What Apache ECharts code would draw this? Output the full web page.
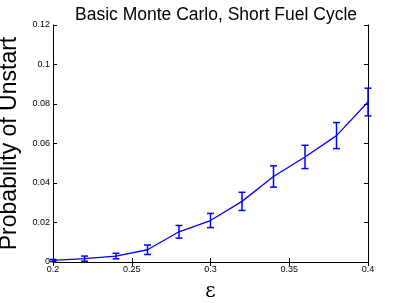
<!DOCTYPE html>
<html><head><meta charset="utf-8">
<script src="https://cdn.jsdelivr.net/npm/echarts@6/dist/echarts.min.js"></script>
<style>html,body{margin:0;padding:0;background:#fff}#c{width:407px;height:303px}</style>
</head><body><div id="c"></div>
<script>
const epsilon = [0.2,0.22,0.24,0.26,0.28,0.3,0.32,0.34,0.36,0.38,0.4];
const probUnstart = [0.0008,0.0017,0.003,0.0062,0.0153,0.021,0.0307,0.0433,0.0532,0.064,0.081];
const errHalf = [0.0005,0.0013,0.0014,0.0024,0.0032,0.0036,0.0046,0.0054,0.0059,0.0066,0.007];
const xTicks = [0.2,0.25,0.3,0.35,0.4];
const yTicks = [0,0.02,0.04,0.06,0.08,0.1,0.12];

const lineData = epsilon.map((x,i)=>[x,probUnstart[i]]);
const errData = epsilon.map((x,i)=>[x,probUnstart[i]-errHalf[i],probUnstart[i]+errHalf[i]]);
const font = 'Liberation Sans, Arial, sans-serif';
const fmt = v => String(+v.toFixed(3));
const baseX = {type:'value',min:xTicks[0],max:xTicks[xTicks.length-1],interval:0.05,
  axisLine:{show:true,lineStyle:{color:'#000',width:1}},
  axisTick:{show:true,inside:true,length:4,lineStyle:{color:'#000'}},
  splitLine:{show:false}};
const baseY = {type:'value',min:yTicks[0],max:yTicks[yTicks.length-1],interval:0.02,
  axisLine:{show:true,lineStyle:{color:'#000',width:1}},
  axisTick:{show:true,inside:true,length:4,lineStyle:{color:'#000'}},
  splitLine:{show:false}};
const chart = echarts.init(document.getElementById('c'));
chart.setOption({
  animation:false,
  backgroundColor:'#fff',
  title:{text:'Basic Monte Carlo, Short Fuel Cycle',left:211,textAlign:'center',top:1,
    textStyle:{fontFamily:font,fontWeight:'normal',fontSize:17.5,color:'#000'}},
  grid:{left:53,right:39,top:25,bottom:41,containLabel:false,outerBoundsMode:'none'},
  xAxis:[
    Object.assign({},baseX,{position:'bottom',name:'ε',nameLocation:'middle',nameGap:20,
      nameTextStyle:{fontFamily:'DejaVu Serif, serif',fontSize:20,color:'#000'},
      axisLabel:{show:true,color:'#000',fontFamily:font,fontSize:9,margin:3,formatter:fmt}}),
    Object.assign({},baseX,{position:'top',axisLabel:{show:false}})
  ],
  yAxis:[
    Object.assign({},baseY,{position:'left',name:'Probability of Unstart',nameLocation:'middle',nameGap:27,
      nameTextStyle:{fontFamily:font,fontSize:23,color:'#000'},
      axisLabel:{show:true,color:'#000',fontFamily:font,fontSize:9,margin:3,formatter:fmt}}),
    Object.assign({},baseY,{position:'right',axisLabel:{show:false}})
  ],
  series:[
    {type:'line',data:lineData,symbol:'none',lineStyle:{color:'#0000ff',width:1.3},z:3},
    {type:'custom',data:errData,z:4,
     renderItem:function(params,api){
       const x=api.value(0), lo=api.value(1), hi=api.value(2);
       const pLo=api.coord([x,lo]), pHi=api.coord([x,hi]);
       const cw=3.5;
       const st={stroke:'#0000ff',lineWidth:1.5};
       return {type:'group',children:[
         {type:'line',shape:{x1:pLo[0],y1:pLo[1],x2:pHi[0],y2:pHi[1]},style:st},
         {type:'line',shape:{x1:pLo[0]-cw,y1:pLo[1],x2:pLo[0]+cw,y2:pLo[1]},style:st},
         {type:'line',shape:{x1:pHi[0]-cw,y1:pHi[1],x2:pHi[0]+cw,y2:pHi[1]},style:st}
       ]};
     },
     encode:{x:0,y:[1,2]}}
  ]
});
</script></body></html>
